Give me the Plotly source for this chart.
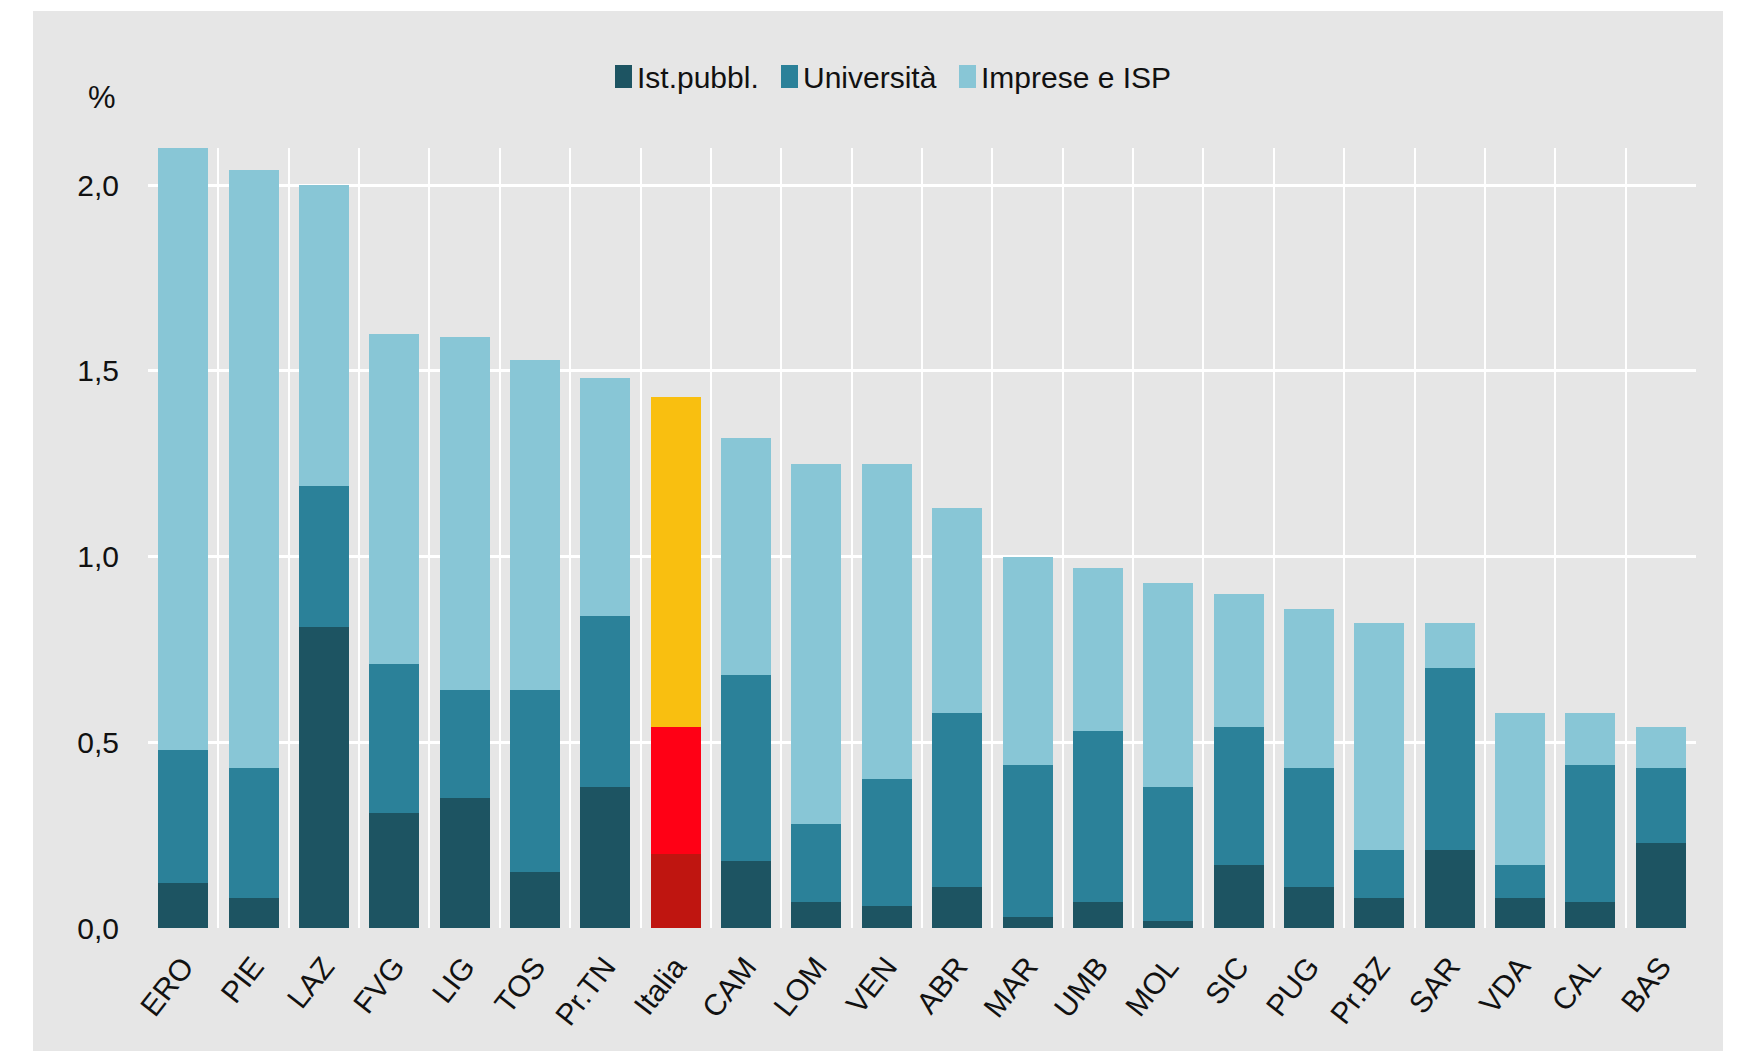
import plotly.graph_objects as go

regions = ["ERO", "PIE", "LAZ", "FVG", "LIG", "TOS", "Pr.TN", "Italia", "CAM", "LOM", "VEN",
           "ABR", "MAR", "UMB", "MOL", "SIC", "PUG", "Pr.BZ", "SAR", "VDA", "CAL", "BAS"]

# cumulative heights
ist_pubbl = [0.12, 0.08, 0.81, 0.31, 0.35, 0.15, 0.38, 0.20, 0.18, 0.07, 0.06,
             0.11, 0.03, 0.07, 0.02, 0.17, 0.11, 0.08, 0.21, 0.08, 0.07, 0.23]
universita_top = [0.48, 0.43, 1.19, 0.71, 0.64, 0.64, 0.84, 0.54, 0.68, 0.28, 0.40,
                  0.58, 0.44, 0.53, 0.38, 0.54, 0.43, 0.21, 0.70, 0.17, 0.44, 0.43]
totale = [2.10, 2.04, 2.00, 1.60, 1.59, 1.53, 1.48, 1.43, 1.32, 1.25, 1.25,
          1.13, 1.00, 0.97, 0.93, 0.90, 0.86, 0.82, 0.82, 0.58, 0.58, 0.54]

universita = [round(u - i, 3) for u, i in zip(universita_top, ist_pubbl)]
imprese = [round(t - u, 3) for t, u in zip(totale, universita_top)]

series_names = ["Ist.pubbl.", "Università", "Imprese e ISP"]

yticks = [0, 0.5, 1.0, 1.5, 2.0]
ytext = ["0,0", "0,5", "1,0", "1,5", "2,0"]

DARK, MID, LIGHT = "#1d5462", "#2b8199", "#88c6d6"
IT_DARK, IT_MID, IT_LIGHT = "#bf1510", "#ff0015", "#f9bf10"
FONT = "Liberation Sans, Arial, sans-serif"

# plot area in page pixels (the page body adds an 8px offset)
PL, PR, PT, PB = 148, 1696, 148, 928


def px(xp):
    return (xp - PL) / (PR - PL)


def py(yp):
    return (PB - yp) / (PB - PT)


def colors(base, italia):
    return [italia if r == "Italia" else base for r in regions]


x = list(range(len(regions)))

fig = go.Figure()
fig.add_trace(go.Bar(x=x, y=ist_pubbl, name=series_names[0], marker=dict(color=colors(DARK, IT_DARK), line_width=0)))
fig.add_trace(go.Bar(x=x, y=universita, name=series_names[1], marker=dict(color=colors(MID, IT_MID), line_width=0)))
fig.add_trace(go.Bar(x=x, y=imprese, name=series_names[2], marker=dict(color=colors(LIGHT, IT_LIGHT), line_width=0)))

fig.update_layout(
    width=1745, height=1051,
    barmode="stack", bargap=0.29,
    paper_bgcolor="white", plot_bgcolor="#e6e6e6",
    margin=dict(l=PL - 8, r=1745 - (PR - 8), t=PT - 8, b=1051 - (PB - 8)),
    font=dict(family=FONT, size=29, color="#111111"),
    showlegend=False,
)

fig.update_xaxes(
    range=[-0.5, len(regions) - 0.5],
    tickmode="array", tickvals=x, ticktext=regions, tickangle=-52,
    tickfont=dict(size=30),
    ticks="outside", ticklen=8, tickcolor="rgba(0,0,0,0)",
    showgrid=False, zeroline=False, showline=False,
    minor=dict(tickmode="array", tickvals=[i - 0.5 for i in range(len(regions) + 1)],
               showgrid=True, gridcolor="white", gridwidth=2, ticks=""),
)
fig.update_yaxes(
    range=[0, 2.1],
    tickmode="array", tickvals=yticks, ticktext=ytext,
    tickfont=dict(size=30),
    ticks="outside", ticklen=22, tickcolor="rgba(0,0,0,0)",
    showgrid=True, gridcolor="white", gridwidth=3,
    zeroline=False, showline=False,
)

# grey panel behind the whole chart
fig.add_shape(type="rect", xref="paper", yref="paper", x0=px(33), x1=px(1723), y0=py(1080), y1=py(11),
              fillcolor="#e6e6e6", line_width=0, layer="below")

# legend drawn by hand: tall squares close to the labels
legend_x = [615, 781, 959]
for name, col, lx in zip(series_names, [DARK, MID, LIGHT], legend_x):
    fig.add_shape(type="rect", xref="paper", yref="paper", x0=px(lx), x1=px(lx + 17), y0=py(88), y1=py(65),
                  fillcolor=col, line_width=0)
    fig.add_annotation(text=name, xref="paper", yref="paper", x=px(lx + 20), y=py(77),
                       xanchor="left", yanchor="middle", showarrow=False, font=dict(size=30))

fig.add_annotation(text="%", xref="paper", yref="paper", x=px(102), y=py(97), xanchor="center", yanchor="middle",
                   showarrow=False, font=dict(size=31))

fig.write_html("out.html")
